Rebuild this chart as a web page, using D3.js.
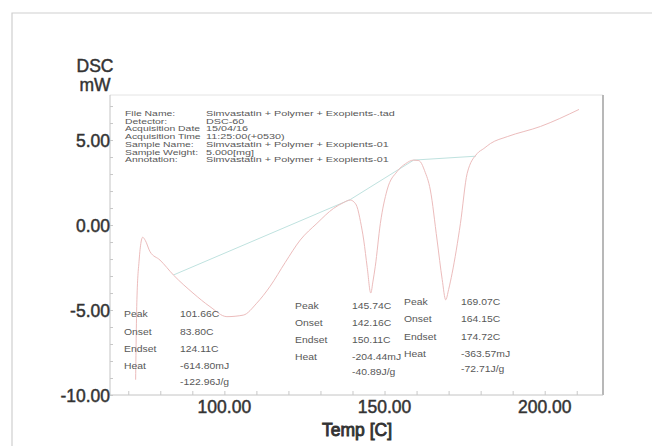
<!DOCTYPE html>
<html><head><meta charset="utf-8">
<script src="https://cdn.jsdelivr.net/npm/d3@7"></script>
<style>body{margin:0;background:#fff}svg{display:block}</style>
</head><body>
<svg id="c" width="652" height="446"></svg>
<script>
// ---- data ----
const tempC = [72.3,72.7,73.4,74.0,74.5,75.3,76.8,79.9,84.1,90.2,95.5,100.8,105.9,110.1,114.3,119.0,123.7,128.9,134.1,137.0,139.3,140.5,141.4,142.5,143.5,144.6,145.7,146.4,147.1,148.7,150.8,153.9,156.5,159.1,160.5,161.2,162.5,164.3,166.4,168.0,169.1,170.0,171.1,173.7,175.8,178.9,181.0,183.1,188.3,198.7,210.7];
const dscMw = [-9.1,-4.4,-2.06,-1.0,-0.72,-0.9,-1.57,-2.06,-2.94,-4.0,-4.8,-5.39,-5.3,-4.6,-3.6,-2.2,-0.88,0.1,0.98,1.3,1.47,1.35,1.08,0.2,-0.88,-2.5,-4.0,-3.3,-2.45,0.1,2.06,3.14,3.6,3.82,3.8,3.72,3.2,2.06,-0.88,-3.2,-4.4,-3.8,-2.84,0.1,3.04,4.2,4.5,4.8,5.2,5.8,6.8];
const baseline1T = [84.1,139.3], baseline1V = [-2.94,1.5];
const baseline2T = [139.3,159.1], baseline2V = [1.5,3.82];
const baseline3T = [159.1,178.5], baseline3V = [3.82,4.05];
const yTicks = [5,0,-5,-10];
const yMinor = [7,6,4,3,2,1,-1,-2,-3,-4,-6,-7,-8,-9];
const xTicks = [100,150,200];
const xMinor = [70,80,90,110,120,130,140,160,170,180,190,210];
const infoLabels = ["File Name:","Detector:","Acquisition Date","Acquisition Time","Sample Name:","Sample Weight:","Annotation:"];
const infoValues = ["Simvastatin + Polymer + Exopients-.tad","DSC-60","15/04/16","11:25:00(+0530)","Simvastatin + Polymer + Exopients-01","5.000[mg]","Simvastatin + Polymer + Exopients-01"];
const peakLabels = ["Peak","Onset","Endset","Heat",""];
const peak1 = ["101.66C","83.80C","124.11C","-614.80mJ","-122.96J/g"];
const peak2 = ["145.74C","142.16C","150.11C","-204.44mJ","-40.89J/g"];
const peak3 = ["169.07C","164.15C","174.72C","-363.57mJ","-72.71J/g"];

// ---- layout ----
const svg = d3.select("#c");
const L=110, T=95, R=603, B=395;
const x = d3.scaleLinear().domain([64.3,218.2]).range([L,R]);
const y = d3.scaleLinear().domain([-10,7.65]).range([B,T]);
const tf = "Liberation Sans, Arial, sans-serif";

// outer frame
svg.append("path").attr("d",`M12,446 L12,13 L652,13`).attr("fill","none").attr("stroke","#cfcfcf").attr("stroke-width",1.2);

// plot box
svg.append("line").attr("x1",L).attr("x2",R).attr("y1",T).attr("y2",T).attr("stroke","#e4e4e4").attr("stroke-width",1);
svg.append("line").attr("x1",L).attr("x2",L).attr("y1",T).attr("y2",B).attr("stroke","#c4c4c4").attr("stroke-width",1);
svg.append("line").attr("x1",R).attr("x2",R).attr("y1",T).attr("y2",B).attr("stroke","#b8b8b8").attr("stroke-width",2);
svg.append("line").attr("x1",L).attr("x2",R).attr("y1",B).attr("y2",B).attr("stroke","#c4c4c4").attr("stroke-width",1);

// axes via d3
const xAxis = d3.axisBottom(x).tickValues(xTicks.concat(xMinor)).tickSize(-4).tickFormat(()=>"");
const gx = svg.append("g").attr("transform",`translate(0,${B})`).call(xAxis);
gx.select(".domain").remove();
gx.selectAll(".tick line").attr("stroke","#c8c8c8");
const yAxis = d3.axisLeft(y).tickValues(yTicks.concat(yMinor)).tickSize(-3).tickFormat(()=>"");
const gy = svg.append("g").attr("transform",`translate(${L},0)`).call(yAxis);
gy.select(".domain").remove();
gy.selectAll(".tick line").attr("stroke","#c8c8c8");

function atext(sel){
  return sel.attr("font-family",tf).attr("font-size",17.5).attr("fill","#333")
    .attr("stroke","#333").attr("stroke-width",0.45);
}
// tick labels
atext(svg.selectAll(".ylab").data(yTicks).enter().append("text")
  .attr("x",110).attr("y",d=>y(d)+6.5).attr("text-anchor","end"))
  .text(d=>d.toFixed(2));
atext(svg.selectAll(".xlab").data(xTicks).enter().append("text")
  .attr("x",d=>x(d)).attr("y",413).attr("text-anchor","middle"))
  .text(d=>d.toFixed(2));

// axis titles
atext(svg.append("text").attr("x",95).attr("y",71.5).attr("text-anchor","middle")).text("DSC");
atext(svg.append("text").attr("x",95).attr("y",91).attr("text-anchor","middle")).text("mW");
atext(svg.append("text").attr("x",357).attr("y",436).attr("text-anchor","middle")).attr("stroke-width",0.9).text("Temp  [C]");

// curve and baselines
const line = d3.line().x(d=>x(d[0])).y(d=>y(d[1]));
const curvePts = tempC.map((t,i)=>[t,dscMw[i]]);
[[baseline1T,baseline1V],[baseline2T,baseline2V],[baseline3T,baseline3V]].forEach(([bt,bv])=>{
  svg.append("path").datum(bt.map((t,i)=>[t,bv[i]])).attr("d",line)
    .attr("fill","none").attr("stroke","#bfe2df").attr("stroke-width",1);
});
svg.append("path").datum(curvePts).attr("d",line.curve(d3.curveMonotoneX))
  .attr("fill","none").attr("stroke","#ecbcbc").attr("stroke-width",1);

// info text
function stext(xp, yp, s, size, sy){
  svg.append("text").attr("transform",`translate(${xp},${yp}) scale(1,${sy})`)
    .attr("font-family",tf).attr("font-size",size).attr("fill","#585858").text(s);
}
const infoY = [116,123.7,131.4,139.1,146.8,154.5,162.2];
infoLabels.forEach((s,i)=>stext(125, infoY[i], s, 10.4, 0.62));
infoValues.forEach((s,i)=>stext(206, infoY[i], s, 10.8, 0.62));

// peak annotations
const p1Y=[317,334.5,352,368.5,384.5], p2Y=[309,326,343,360,374.5], p3Y=[305,322,339.5,356.5,371.5];
peakLabels.forEach((s,i)=>{ if(s){ stext(124,p1Y[i],s,10.4,0.85); stext(295,p2Y[i],s,10.4,0.85); stext(404,p3Y[i],s,10.4,0.85);} });
peak1.forEach((s,i)=>stext(180,p1Y[i],s,10.4,0.85));
peak2.forEach((s,i)=>stext(352,p2Y[i],s,10.4,0.85));
peak3.forEach((s,i)=>stext(461,p3Y[i],s,10.4,0.85));
</script>
</body></html>
